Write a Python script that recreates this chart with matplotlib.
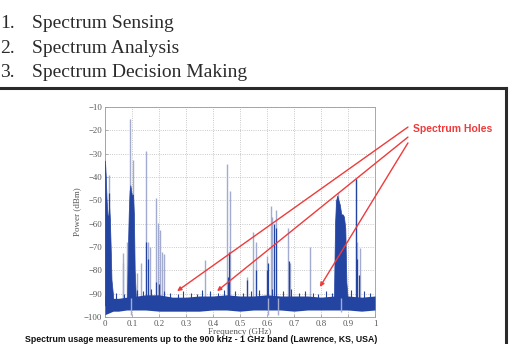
import numpy as np
import matplotlib
matplotlib.use("Agg")
import matplotlib.pyplot as plt
from matplotlib.lines import Line2D

W, H = 509, 344

# --- texte au-dessus de la figure
list_nums = ["1.", "2.", "3."]
list_items = ["Spectrum Sensing", "Spectrum Analysis", "Spectrum Decision Making"]
caption = "Spectrum usage measurements up to the 900 kHz - 1 GHz band (Lawrence, KS, USA)"

# --- plancher de bruit (GHz, dBm)
floor_f   = [0.0, 0.01, 0.02, 0.03, 0.05, 0.08, 0.12, 0.15, 0.2, 0.25, 0.3, 0.35, 0.4,
             0.45, 0.5, 0.55, 0.6, 0.65, 0.7, 0.75, 0.8, 0.85, 0.9, 0.95, 1.0]
floor_top = [-91, -90, -91.5, -92, -92, -91.5, -91, -90.5, -90.5, -91.5, -91.5, -91, -91,
             -90.5, -91, -91, -90.5, -91, -91, -91, -91.5, -91, -91, -91.5, -91]
floor_bot = [-99, -98.5, -98, -97.5, -97.5, -97, -97, -97, -97.5, -97.5, -97.5, -97.5, -97,
             -97, -97.5, -97, -97, -97, -97.5, -97, -97, -97, -97, -97.5, -97]

# petites pointes dans le bruit
fuzz_f   = [0.04, 0.07, 0.12, 0.14, 0.17, 0.22, 0.24, 0.27, 0.29, 0.32, 0.34, 0.36, 0.39,
            0.42, 0.44, 0.48, 0.51, 0.54, 0.57, 0.62, 0.66, 0.69, 0.72, 0.74, 0.77, 0.79,
            0.82, 0.84, 0.91, 0.96, 0.98]
fuzz_top = [-89.5, -90, -88.5, -89, -88, -89, -89.5, -90, -89, -89.5, -90, -88.5, -89,
            -89.5, -88.5, -89, -89.5, -89, -88.5, -88, -89, -88, -89.5, -89, -89.5, -90,
            -89, -89.5, -88.5, -89, -89.5]

# amas denses (enveloppes)
clusterA_f   = [0.0, 0.003, 0.006, 0.009, 0.012, 0.015, 0.018, 0.021, 0.024, 0.03]
clusterA_top = [-33, -40, -50, -56, -58, -52, -58, -70, -84, -91]
clusterB_f   = [0.082, 0.085, 0.088, 0.091, 0.094, 0.097, 0.1, 0.104, 0.107, 0.11, 0.114]
clusterB_top = [-91, -70, -55, -46, -43.5, -46, -48, -47.5, -56, -80, -91]
clusterC_f   = [0.848, 0.852, 0.856, 0.86, 0.865, 0.87, 0.875, 0.88, 0.885, 0.89, 0.894, 0.898]
clusterC_top = [-91, -60, -50, -48, -50, -52, -56, -56, -57, -62, -85, -91]

# raies sombres
dark_f   = [0.016, 0.152, 0.16, 0.19, 0.2, 0.455, 0.46, 0.527, 0.56, 0.6, 0.605,
            0.625, 0.633, 0.68, 0.93, 0.935, 0.94]
dark_top = [-47, -67.7, -75, -85, -86, -82.7, -72, -84, -80, -80, -77,
            -60, -62, -76, -41, -75, -82]

# raies claires (max hold)
light_f   = [0.016, 0.065, 0.068, 0.08, 0.093, 0.105, 0.117, 0.133, 0.15, 0.16, 0.167,
             0.188, 0.195, 0.204, 0.21, 0.218, 0.37, 0.453, 0.463, 0.527, 0.547, 0.559,
             0.599, 0.614, 0.62, 0.633, 0.679, 0.685, 0.759, 0.856, 0.864, 0.93, 0.934, 0.944]
light_top = [-39, -77, -72.6, -67.7, -15.3, -32.7, -81, -77, -29, -67.7, -70,
             -49, -59.8, -62.7, -72, -73, -75.6, -34.4, -46, -83, -63.4, -67.7,
             -74, -52.5, -57, -54, -62, -77, -70, -50, -47, -40.5, -68, -70.5]

# creux clairs dans le bruit
dip_f   = [0.095, 0.605, 0.64, 0.873]
dip_bot = [-99, -99, -99, -98]

# fleches "Spectrum Holes" : pointes (GHz, dBm)
hole_f = [0.267, 0.415, 0.796]
hole_p = [-88.9, -88.9, -87.1]
hole_from_y = [-18.6, -22.9, -25.4]

xticks = [0, 0.1, 0.2, 0.3, 0.4, 0.5, 0.6, 0.7, 0.8, 0.9, 1.0]
xtick_labels = ["0", "0.1", "0.2", "0.3", "0.4", "0.5", "0.6", "0.7", "0.8", "0.9", "1"]
yticks = [-100, -90, -80, -70, -60, -50, -40, -30, -20, -10]


dark = "#2444a2"
light = "#a3acd0"
red = "#ee3b3b"
serif = ["Liberation Serif", "DejaVu Serif"]
sans = ["Liberation Sans", "DejaVu Sans"]

fig = plt.figure(figsize=(W / 100, H / 100), dpi=100)
fig.patch.set_facecolor("white")

# liste numerotee
for i, (n, item) in enumerate(zip(list_nums, list_items)):
    yb = 1 - (28.5 + 24.2 * i) / H
    fig.text(0.5 / W, yb, n, family=serif, fontsize=14, color="#2b2b2b", va="baseline")
    fig.text(32 / W, yb, item, family=serif, fontsize=14, color="#2b2b2b", va="baseline")

# cadre
fig.add_artist(Line2D([0, 505.5 / W], [1 - 87.5 / H] * 2, transform=fig.transFigure,
                      color="#2a2a2a", lw=2.2))
fig.add_artist(Line2D([505.5 / W] * 2, [1 - 87.5 / H, 0], transform=fig.transFigure,
                      color="#2a2a2a", lw=2.2))

ax = fig.add_axes([105 / W, 27 / H, 270 / W, 210 / H])
ax.set_xlim(0, 1)
ax.set_ylim(-100, -10)

ax.grid(True, ls=":", color="#b8b8b8", lw=0.6)
ax.set_axisbelow(True)

ax.vlines(light_f, -95, light_top, color=light, lw=1.0, zorder=2)
ax.fill_between(floor_f, floor_bot, floor_top, color=dark, lw=0, zorder=3)
ax.vlines(fuzz_f, -94, fuzz_top, color=dark, lw=0.8, zorder=3)
for cf, ct in [(clusterA_f, clusterA_top), (clusterB_f, clusterB_top), (clusterC_f, clusterC_top)]:
    ax.fill_between(cf, -95, ct, color=dark, lw=0.5, zorder=3)
ax.vlines(dark_f, -95, dark_top, color=dark, lw=0.9, zorder=3)
ax.vlines(dip_f, dip_bot, -92, color=light, lw=1.0, zorder=4)

ax.set_xticks(xticks)
ax.set_xticklabels(xtick_labels)
ax.set_yticks(yticks)
ax.tick_params(direction="in", length=2, width=0.5, colors="#999999",
               labelcolor="#555555", labelsize=6.3, pad=2)
for lab in ax.get_xticklabels() + ax.get_yticklabels():
    lab.set_family(serif)
for sp in ax.spines.values():
    sp.set_color("#9a9a9a")
    sp.set_linewidth(0.6)

ax.set_xlabel("Frequency (GHz)", family=serif, fontsize=6.5, color="#555555", va="top")
ax.xaxis.set_label_coords(0.5, -0.052)
ax.set_ylabel("Power (dBm)", family=serif, fontsize=6.5, color="#555555")
ax.yaxis.set_label_coords(-0.089, 0.5)

# annotation
for hf, hp, fy in zip(hole_f, hole_p, hole_from_y):
    ax.annotate("", xy=(hf, hp), xytext=(1.122, fy), annotation_clip=False,
                arrowprops=dict(arrowstyle="-|>", color=red, lw=1.0,
                                mutation_scale=6, shrinkA=0, shrinkB=0))
ax.text(1.141, -19.4, "Spectrum Holes", family=sans, fontweight="bold", fontsize=7.5,
        color=red, va="center", ha="left", clip_on=False)

fig.text(25 / W, 0.5 / H, caption, family=sans, fontweight="bold", fontsize=6.3,
         color="#111111", va="bottom", ha="left")

fig.savefig("out.png", dpi=100)
